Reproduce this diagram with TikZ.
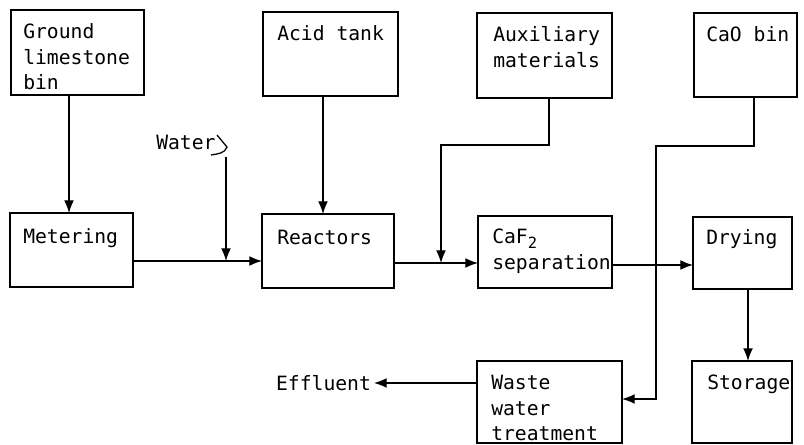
\documentclass[tikz,border=0pt]{standalone}
\usepackage{fontspec}
\setmonofont{DejaVu Sans Mono}
\usetikzlibrary{arrows.meta}

\newcommand{\ulines}[1]{\parbox[t]{4cm}{\raggedright #1}}

\begin{document}
\begin{tikzpicture}[
  x=0.025cm, y=-0.025cm,
  every node/.style={font=\ttfamily\fontsize{14}{17.8}\selectfont},
  %% Node styles
  unit/.style={draw, line width=0.9pt, inner sep=0pt, outer sep=0pt,
    anchor=north west},
  utext/.style={anchor=base west, inner sep=0pt},
  %% Connector styles
  pipe/.style={draw, line width=0.9pt},
  flow/.style={pipe, -{Latex[length=9pt,width=7pt]}},
]
\useasboundingbox (0,0) rectangle (804,445);

%% =============================================================
%%  Units (boxes)
%% =============================================================
\node[unit, minimum width=3.325cm, minimum height=2.125cm] (ground) at (11,10) {};
\node[unit, minimum width=3.375cm, minimum height=2.1cm]   (acid)   at (263,12) {};
\node[unit, minimum width=3.375cm, minimum height=2.125cm] (aux)    at (477,13) {};
\node[unit, minimum width=2.575cm, minimum height=2.1cm]   (cao)    at (694,13) {};

\node[unit, minimum width=3.075cm, minimum height=1.85cm]  (meter)  at (10,213) {};
\node[unit, minimum width=3.3cm,   minimum height=1.85cm]  (react)  at (262,214) {};
\node[unit, minimum width=3.35cm,  minimum height=1.8cm]   (sep)    at (478,216) {};
\node[unit, minimum width=2.475cm, minimum height=1.8cm]   (dry)    at (693,217) {};

\node[unit, minimum width=3.625cm, minimum height=2.05cm]  (waste)  at (477,361) {};
\node[unit, minimum width=2.5cm,   minimum height=2.05cm]  (store)  at (692,361) {};

%% Box texts
\node[utext] (ground-t) at ([shift={(12,29)}]ground.north west) {\ulines{Ground\\limestone\\bin}};
\node[utext] (acid-t)   at ([shift={(14,29)}]acid.north west)   {Acid tank};
\node[utext] (aux-t)    at ([shift={(16,29)}]aux.north west)    {\ulines{Auxiliary\\materials}};
\node[utext] (cao-t)    at ([shift={(12,29)}]cao.north west)    {CaO bin};
\node[utext] (meter-t)  at ([shift={(13,31)}]meter.north west)  {Metering};
\node[utext] (react-t)  at ([shift={(15,31)}]react.north west)  {Reactors};
\node[utext] (sep-t)    at ([shift={(14,28)}]sep.north west)
    {\ulines{CaF\raisebox{-3pt}{\fontsize{11}{12}\selectfont 2}\\separation}};
\node[utext] (dry-t)    at ([shift={(13,28)}]dry.north west)    {Drying};
\node[utext] (waste-t)  at ([shift={(14,29)}]waste.north west)  {\ulines{Waste\\water\\treatment}};
\node[utext] (store-t)  at ([shift={(15,29)}]store.north west)  {Storage};

%% Free labels
\node[anchor=west, inner sep=0pt] (water) at (156,142) {Water};
\node[anchor=west, inner sep=2pt] (effl)  at (273,383) {Effluent};

%% =============================================================
%%  Connectors
%% =============================================================
\coordinate (wtop)    at (217,135);
\coordinate (wdrop)   at (226,157);
\coordinate (wjoin)   at (226,261);
\coordinate (auxjoin) at (441,263);
\coordinate (caojoin) at (656,399);

\draw[flow] (ground.south -| 69,0) -- (meter.north -| 69,0);
\draw[flow] (meter.east |- wjoin) -- (react.west |- wjoin);
\draw[pipe] (wtop) -- (227,147) to[out=-110, in=10] (211,155);
\draw[flow] (wdrop) -- (wjoin);
\draw[flow] (acid.south -| 323,0) -- (react.north -| 323,0);
\draw[flow] (react.east |- auxjoin) -- (sep.west |- auxjoin);
\draw[flow] (aux.south -| 549,0) |- (auxjoin |- 0,145) -- (auxjoin);
\draw[flow] (sep.east |- 0,265) -- (dry.west |- 0,265);
\draw[flow] (cao.south -| 754,0) |- (caojoin |- 0,146) -- (caojoin)
    -- (waste.east |- caojoin);
\draw[flow] (dry.south -| 748,0) -- (store.north -| 748,0);
\draw[flow] (waste.west |- effl.east) -- (effl.east);

\end{tikzpicture}
\end{document}
